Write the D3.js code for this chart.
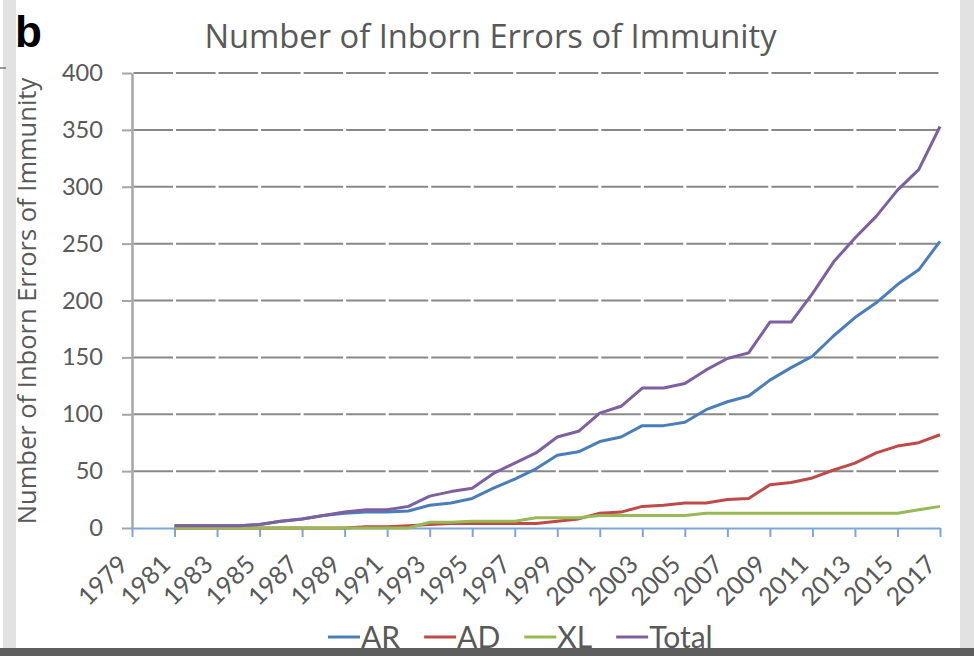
<!DOCTYPE html>
<html><head><meta charset="utf-8">
<script src="https://cdn.jsdelivr.net/npm/d3@7"></script>
<style>body{margin:0;background:#fff;overflow:hidden} svg{display:block;font-family:Lato,'Open Sans',sans-serif;}</style>
</head><body><svg id="c" width="974" height="656"></svg>
<script>
// ---- data ----
const years = [1979,1980,1981,1982,1983,1984,1985,1986,1987,1988,1989,1990,1991,1992,1993,1994,1995,1996,1997,1998,1999,2000,2001,2002,2003,2004,2005,2006,2007,2008,2009,2010,2011,2012,2013,2014,2015,2016,2017];
const AR    = [null,null,2,2,2,2,3,6,8,11,13,14,14,15,20,22,26,35,43,52,64,67,76,80,90,90,93,104,111,116,130,141,151,169,185,198,214,227,252];
const AD    = [null,null,0,0,0,0,0,0,0,0,0,1,1,2,3,4,4,4,4,4,6,8,13,14,19,20,22,22,25,26,38,40,44,51,57,66,72,75,82];
const XL    = [null,null,0,0,0,0,0,0,0,0,0,0,0,0,5,5,6,6,6,9,9,9,11,11,11,11,11,13,13,13,13,13,13,13,13,13,13,16,19];
const Total = [null,null,2,2,2,2,3,6,8,11,14,16,16,19,28,32,35,48,57,66,80,85,101,107,123,123,127,139,149,154,181,181,206,234,255,274,297,315,353];
const seriesNames  = ["AR","AD","XL","Total"];
const seriesColors = ["#4A7EBB","#BE4B48","#98B954","#7D60A0"];
const yTicks = [0,50,100,150,200,250,300,350,400];
const xTickYears = [1979,1981,1983,1985,1987,1989,1991,1993,1995,1997,1999,2001,2003,2005,2007,2009,2011,2013,2015,2017];
const titleText = "Number of Inborn Errors of Immunity";
const yTitleText = "Number of Inborn Errors of Immunity";
const panelLabel = "b";

// ---- drawing ----
const svg = d3.select("#c");
const seriesData = [AR, AD, XL, Total];
const textColor = "#595959";

// page decorations
svg.append("rect").attr("x",0).attr("y",0).attr("width",974).attr("height",656).attr("fill","#fff");
svg.append("rect").attr("x",3).attr("y",0).attr("width",13).attr("height",648).attr("fill","#e2e2e2");
svg.append("rect").attr("x",960).attr("y",0).attr("width",14).attr("height",648).attr("fill","#e2e2e2");
svg.append("line").attr("x1",0).attr("x2",6).attr("y1",68).attr("y2",68).attr("stroke","#777").attr("stroke-width",1.5);

const x = d3.scaleLinear().domain([1979,2017]).range([132,940]);
const y = d3.scaleLinear().domain([0,400]).range([528,73]);

// gridlines (segmented between category ticks)
const grid = svg.append("g");
yTicks.filter(v => v > 0).forEach(v => {
  for (let i = 0; i < xTickYears.length - 1; i++) {
    grid.append("line")
      .attr("x1", x(xTickYears[i]) + 1.5).attr("x2", x(xTickYears[i+1]) - 1.5)
      .attr("y1", y(v)).attr("y2", y(v))
      .attr("stroke","#888").attr("stroke-width",2);
  }
});

// y axis
const yAxis = svg.append("g").attr("transform","translate(132,0)")
  .call(d3.axisLeft(y).tickValues(yTicks).tickSize(10).tickSizeOuter(0).tickPadding(19));
yAxis.select(".domain").attr("stroke","#a6a6a6").attr("stroke-width",2.5);
yAxis.selectAll(".tick line").attr("stroke","#a6a6a6").attr("stroke-width",2);
yAxis.selectAll(".tick text").attr("fill",textColor).attr("font-size",23.6).attr("font-family","Lato");

// x axis
const xAxis = svg.append("g").attr("transform","translate(0,528)")
  .call(d3.axisBottom(x).tickValues(xTickYears).tickFormat(d3.format("d")).tickSize(9).tickSizeOuter(0));
xAxis.select(".domain").attr("stroke","#7EA6D8").attr("stroke-width",2);
xAxis.selectAll(".tick line").attr("stroke","#7EA6D8").attr("stroke-width",2);
xAxis.selectAll(".tick text")
  .attr("x",0).attr("y",0).attr("dy",0)
  .attr("text-anchor","end")
  .attr("transform","translate(-3,38) rotate(-45)")
  .attr("fill",textColor).attr("font-size",25).attr("font-family","Lato");

// series
const line = d3.line()
  .defined(d => d != null)
  .x((d,i) => x(years[i]))
  .y(d => y(d));
seriesData.forEach((s, k) => {
  svg.append("path")
    .attr("d", line(s))
    .attr("fill","none")
    .attr("stroke", seriesColors[k])
    .attr("stroke-width", 3)
    .attr("stroke-linejoin","round");
});

// title
svg.append("text").attr("x",490.5).attr("y",48).attr("text-anchor","middle")
  .attr("font-family","'Open Sans'").attr("font-size",32.7).attr("fill",textColor).text(titleText);

// panel label
svg.append("text").attr("x",15).attr("y",47)
  .attr("font-family","'Liberation Sans',Arial,sans-serif").attr("font-weight","bold")
  .attr("font-size",44).attr("fill","#000").text(panelLabel);

// y title
svg.append("text").attr("transform","translate(36,301) rotate(-90)")
  .attr("text-anchor","middle").attr("font-family","'Open Sans'")
  .attr("font-size",25.5).attr("fill",textColor).text(yTitleText);

// legend
const legend = svg.append("g");
let lx = 328;
seriesNames.forEach((name, k) => {
  legend.append("line").attr("x1",lx).attr("x2",lx+32).attr("y1",637).attr("y2",637)
    .attr("stroke",seriesColors[k]).attr("stroke-width",3);
  const t = legend.append("text").attr("x",lx+33).attr("y",648)
    .attr("font-size",30).attr("fill",textColor).text(name);
  lx += 33 + t.node().getComputedTextLength() + 24;
});

// bottom bar
svg.append("rect").attr("x",0).attr("y",648).attr("width",974).attr("height",8).attr("fill","#5e5e5e");
</script>
</body></html>
